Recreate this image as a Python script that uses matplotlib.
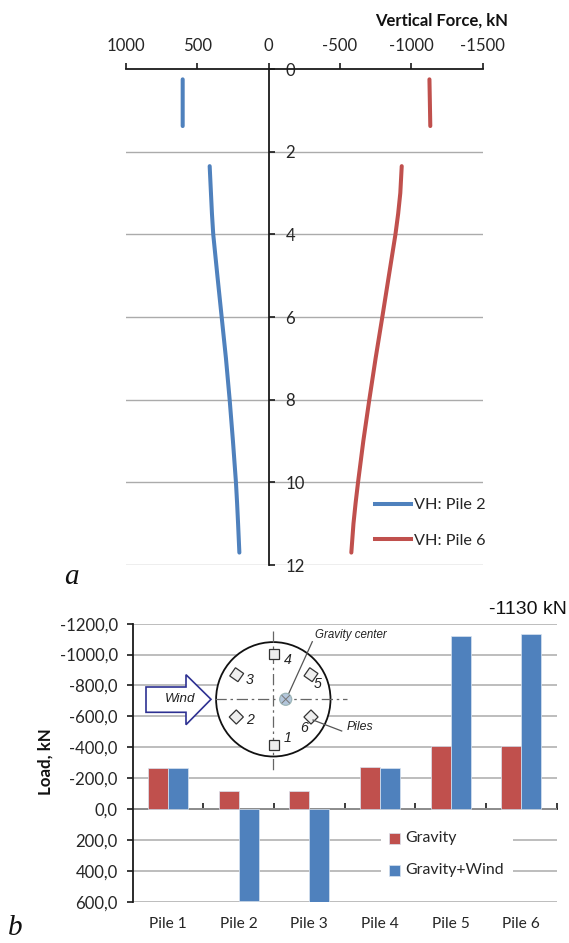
import numpy as np
import matplotlib
matplotlib.use("Agg")
import matplotlib.pyplot as plt
from matplotlib.patches import Circle, Polygon, Rectangle
from matplotlib.lines import Line2D
from matplotlib.transforms import Affine2D

depth = [0.25, 0.8, 1.38, np.nan, 2.35, 3.0, 3.5, 4.0, 5.0, 6.0, 7.0, 8.0, 9.0, 10.0, 10.5, 11.0, 11.7]
pile2 = [601, 601, 601, np.nan, 412, 403, 396, 387, 358, 328, 298, 272, 249, 228, 220, 213, 204]
pile6 = [-1127, -1130, -1133, np.nan, -933, -923, -908, -889, -843, -797, -750, -706, -664, -627, -610, -595, -580]
top_ticks = [1000, 500, 0, -500, -1000, -1500]
top_labels = ["1000", "500", "0", "-500", "-1000", "-1500"]
depth_ticks = [0, 2, 4, 6, 8, 10, 12]

piles = ["Pile 1", "Pile 2", "Pile 3", "Pile 4", "Pile 5", "Pile 6"]
gravity = [-268, -117, -117, -272, -408, -408]
gravity_wind = [-263, 596, 604, -268, -1122, -1131]
load_ticks = [-1200, -1000, -800, -600, -400, -200, 0, 200, 400, 600]
load_labels = ["-1200,0", "-1000,0", "-800,0", "-600,0", "-400,0", "-200,0", "0,0", "200,0", "400,0", "600,0"]

BLUE, RED, GRID, DARK, TXT = "#4F81BD", "#C0504D", "#ABABAB", "#1A1A1A", "#262626"
W, H = 569, 943
plt.rcParams["font.family"] = ["Lato", "DejaVu Sans"]
fig = plt.figure(figsize=(W / 100, H / 100), dpi=100, facecolor="white")

def px_axes(l, t, r, b, **kw):
    return fig.add_axes([l / W, 1 - b / H, (r - l) / W, (b - t) / H], **kw)

# ---- panel a
a = px_axes(125.7, 69, 482.7, 565)
a.set_xlim(1000, -1500)
a.set_ylim(12, 0)
a.set_facecolor("none")
for d in depth_ticks[1:]:
    a.axhline(d, color=GRID, lw=1.0, zorder=1)
a.plot(pile2, depth, color=BLUE, lw=2.9, solid_capstyle="round", zorder=3)
a.plot(pile6, depth, color=RED, lw=2.9, solid_capstyle="round", zorder=3)
for s in ("left", "bottom"):
    a.spines[s].set_visible(False)
a.spines["top"].set_linewidth(1.3)
a.spines["top"].set_color(DARK)
a.spines["right"].set_position(("data", 0))
a.spines["right"].set_linewidth(1.3)
a.spines["right"].set_color(DARK)
a.xaxis.tick_top()
a.set_xticks(top_ticks, top_labels)
a.yaxis.tick_right()
a.set_yticks(depth_ticks)
a.tick_params(axis="x", length=4, width=1.2, color=DARK, labelsize=12.1, labelcolor=TXT, pad=6.5)
a.tick_params(axis="y", length=4.3, width=1.2, color=DARK, labelsize=12.1, labelcolor=TXT, pad=8)
handles = [Line2D([], [], color=BLUE, lw=2.9), Line2D([], [], color=RED, lw=2.9)]
fig.legend(handles, ["VH: Pile 2", "VH: Pile 6"], loc="center left",
           bbox_to_anchor=(375 / W, 1 - 523 / H), frameon=False, fontsize=11.7,
           labelcolor=TXT, handlelength=2.2, handletextpad=0.18, labelspacing=1.3,
           borderpad=0, borderaxespad=0)
fig.text(508 / W, 1 - 21 / H, "Vertical Force, kN", ha="right", va="center",
         fontsize=12, fontweight="bold", color="#111111")
fig.text(64 / W, 1 - 577 / H, "a", family="Liberation Serif", style="italic", fontsize=21,
         ha="left", va="center", color="#111111")

# ---- panel b
b = px_axes(132.7, 623.7, 556.7, 901.7)
b.set_xlim(0, 6)
b.set_ylim(600, -1200)
x = np.arange(6) + 0.5
bw = 0.283
b.bar(x - bw / 2, gravity, bw, color=RED, edgecolor="#D9E4F1", linewidth=0.5, zorder=3)
b.bar(x + bw / 2, gravity_wind, bw, color=BLUE, edgecolor="#D9E4F1", linewidth=0.5, zorder=3)
b.set_yticks(load_ticks, load_labels)
b.grid(axis="y", color=GRID, lw=1.1, zorder=1)
b.set_axisbelow(True)
for s in ("top", "right", "bottom"):
    b.spines[s].set_visible(False)
b.spines["left"].set_linewidth(1.3)
b.spines["left"].set_color(DARK)
b.set_xticks(x, piles)
b.tick_params(axis="x", length=0, labelsize=11.2, labelcolor=TXT, pad=11)
b.tick_params(axis="y", length=4.3, width=1.2, color=DARK, labelsize=12.1, labelcolor=TXT, pad=6.5)
zero = b.secondary_xaxis(600 / 1800)
zero.set_xticks(np.arange(1, 7))
zero.set_xticklabels([])
zero.tick_params(axis="x", direction="in", length=4.3, width=1.2, color=DARK)
zero.spines["bottom"].set_linewidth(1.3)
zero.spines["bottom"].set_color(DARK)
b.set_ylabel("Load, kN", fontsize=12.2, fontweight="bold", color="#111111")
b.yaxis.set_label_coords((54 - 132.7) / 424, 1 - (762 - 623.7) / 278)

# ---- overlay in pixel coordinates (legend mask + foundation sketch)
o = fig.add_axes([0, 0, 1, 1], zorder=10)
o.set_xlim(0, W)
o.set_ylim(H, 0)
o.axis("off")
o.patch.set_alpha(0)
o.add_patch(Rectangle((381, 828), 132, 52, fc="white", ec="none"))
for yy, c, lab in [(838, RED, "Gravity"), (870, BLUE, "Gravity+Wind")]:
    o.add_patch(Rectangle((389, yy - 5.5), 11, 11, fc=c, ec="#D9E4F1", lw=0.5))
    o.text(405, yy, lab, fontsize=11.4, color=TXT, va="center", ha="left")
fig.text(8 / W, 1 - 935 / H, "b", family="Liberation Serif", style="italic", fontsize=21,
         ha="left", va="baseline", color="#111111", zorder=11)
fig.text(567 / W, 1 - 609 / H, "-1130 kN", family="Liberation Sans", fontsize=14, ha="right",
         va="center", color="#111111", zorder=11)

cx, cy, R = 273.3, 699.3, 57.2
o.add_patch(Circle((cx, cy), R, fc="white", ec="#111111", lw=1.3, zorder=2))
dd = dict(color="#666666", lw=0.9, ls=(0, (9, 3, 2, 3)), zorder=3)
o.plot([cx, cx], [631, 773], **dd)
o.plot([215, 347], [cy, cy], **dd)
o.add_patch(Polygon([(146, 687), (186, 687), (186, 674.7), (211, 699.3), (186, 724.7),
                     (186, 712.3), (146, 712.3)], closed=True, fc="white", ec="#2E3192", lw=1.2, zorder=4))
o.text(180.5, 699, "Wind", family="Liberation Sans", style="italic", fontsize=9.6,
       ha="center", va="center", color="#222222", zorder=5)
for px, py, ang in [(273.7, 745.3, 0), (273.7, 653.7, 0), (236.7, 674.7, 35),
                    (311, 674.7, 35), (236.3, 717, 45), (311, 717, 45)]:
    tr = Affine2D().rotate_deg_around(px, py, ang) + o.transData
    o.add_patch(Rectangle((px - 5, py - 5), 10, 10, fc="#EFEFEF", ec="#333333", lw=0.9, transform=tr, zorder=4))
for n, px, py in [("1", 288, 738), ("2", 250.5, 720), ("3", 249.5, 680), ("4", 288, 659.5), ("5", 317.5, 684), ("6", 304, 728)]:
    o.text(px, py, n, family="Liberation Sans", style="italic", fontsize=10.2, ha="center", va="center",
           color="#222222", zorder=5)
o.plot([286.7, 312.3], [698, 641.7], color="#555555", lw=0.9, zorder=5)
o.plot([313, 341.7], [720, 731], color="#555555", lw=0.9, zorder=5)
o.add_patch(Circle((285.7, cy), 6, fc="#B3C6DC", ec="#9DB6B8", lw=0.9, zorder=5))
o.plot([282, 289.5], [695.5, 703], color="#777777", lw=0.7, zorder=6)
o.plot([282, 289.5], [703, 695.5], color="#777777", lw=0.7, zorder=6)
o.text(315, 634.7, "Gravity center", family="Liberation Sans", style="italic", fontsize=8.3,
       ha="left", va="center", color="#222222", zorder=5)
o.text(346.7, 727, "Piles", family="Liberation Sans", style="italic", fontsize=8.8,
       ha="left", va="center", color="#222222", zorder=5)

fig.savefig("out.png", dpi=100)
